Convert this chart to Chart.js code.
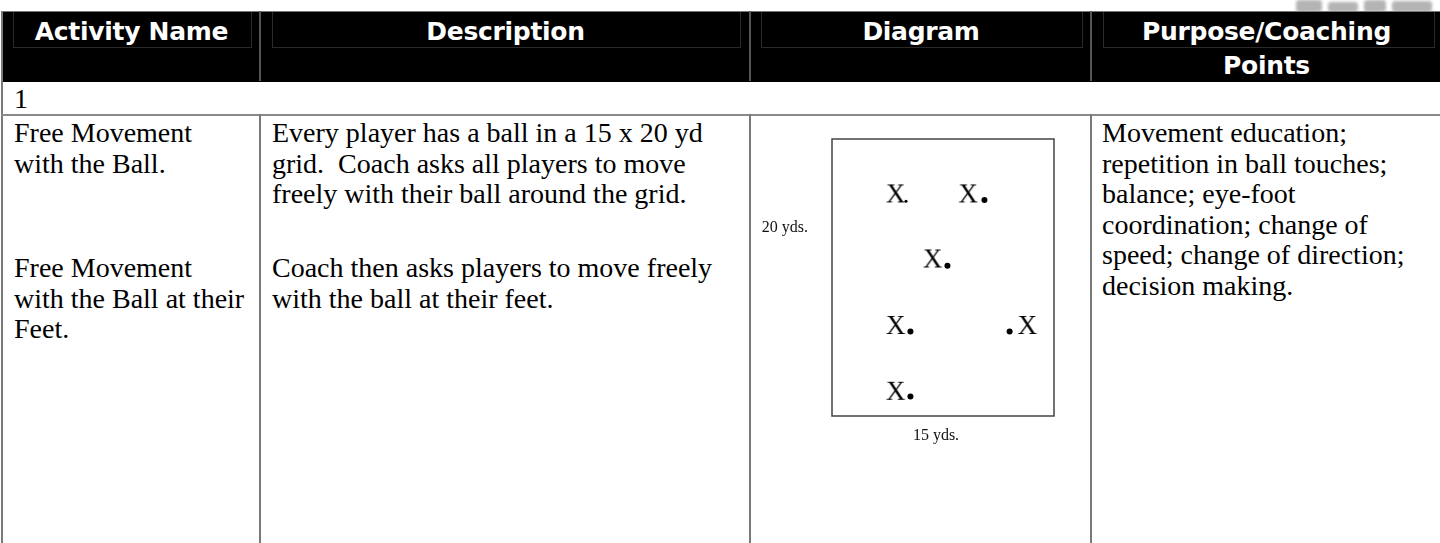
<!DOCTYPE html>
<html>
<head>
<meta charset="utf-8">
<script src="https://cdn.jsdelivr.net/npm/chart.js@4.4.1/dist/chart.umd.min.js"></script>
<style>
  html, body { margin: 0; padding: 0; background: #fff; }
  #page { position: relative; width: 1440px; height: 543px; overflow: hidden; }
  .abs { position: absolute; }
  .blob { background: #b4b4b4; filter: blur(1.5px); border-radius: 3px; }
  .head { left: 3px; top: 11px; width: 1437px; height: 70px; background: #000; border-top: 1px solid #777; }
  .hbox { top: 12px; height: 35px; border: 1px solid #2a2a2a; border-top: none; }
  .htext { color: #fff; font: bold 25px "DejaVu Sans", sans-serif; text-align: center; line-height: 34px; letter-spacing: -0.3px; }
  .vline { width: 2px; background: #7a7a7a; }
  .hline { height: 2px; background: #8a8a8a; }
  .txt { font: 28px "Liberation Serif", "Times New Roman", serif; line-height: 30.5px; color: #000; white-space: pre; }
</style>
</head>
<body>
<div id="page">
  <div class="abs blob" style="left:1296px;top:0;width:26px;height:12px"></div>
  <div class="abs blob" style="left:1328px;top:2px;width:30px;height:10px"></div>
  <div class="abs blob" style="left:1364px;top:0;width:22px;height:12px"></div>
  <div class="abs blob" style="left:1392px;top:1px;width:40px;height:11px"></div>
  <div class="abs head"></div>
  <div class="abs hbox" style="left:13px;width:237px"></div>
  <div class="abs hbox" style="left:272px;width:467px"></div>
  <div class="abs hbox" style="left:761px;width:320px"></div>
  <div class="abs hbox" style="left:1103px;width:330px"></div>
  <div class="abs htext" style="left:13px;width:237px;top:15px">Activity Name</div>
  <div class="abs htext" style="left:272px;width:467px;top:15px">Description</div>
  <div class="abs htext" style="left:761px;width:320px;top:15px">Diagram</div>
  <div class="abs htext" style="left:1093px;width:347px;top:15px">Purpose/Coaching</div>
  <div class="abs htext" style="left:1093px;width:347px;top:49px">Points</div>

  <div class="abs vline" style="left:1px;top:11px;height:532px"></div>
  <div class="abs vline" style="left:259px;top:11px;height:70px;background:#555"></div>
  <div class="abs vline" style="left:749px;top:11px;height:70px;background:#555"></div>
  <div class="abs vline" style="left:1090px;top:11px;height:70px;background:#555"></div>

  <div class="abs txt" style="left:14px;top:84px">1</div>
  <div class="abs hline" style="left:1px;top:114px;width:1439px"></div>

  <div class="abs vline" style="left:259px;top:114px;height:429px"></div>
  <div class="abs vline" style="left:749px;top:114px;height:429px"></div>
  <div class="abs vline" style="left:1090px;top:114px;height:429px"></div>

  <div class="abs txt" style="left:14px;top:118px">Free Movement
with the Ball.</div>
  <div class="abs txt" style="left:14px;top:253px">Free Movement
with the Ball at their
Feet.</div>
  <div class="abs txt" style="left:272px;top:118px">Every player has a ball in a 15 x 20 yd
grid.  Coach asks all players to move
freely with their ball around the grid.</div>
  <div class="abs txt" style="left:272px;top:253px">Coach then asks players to move freely
with the ball at their feet.</div>
  <div class="abs txt" style="left:1102px;top:118px">Movement education;
repetition in ball touches;
balance; eye-foot
coordination; change of
speed; change of direction;
decision making.</div>

  <canvas id="diagram" class="abs" width="338" height="427" style="left:752px;top:116px"></canvas>
</div>

<script>
// grid size in yards
const gridWidth = 15;
const gridHeight = 20;
const widthLabel = '15 yds.';
const heightLabel = '20 yds.';

// players (X) and their balls, in yards from the bottom-left corner
const playerX = [4.3, 9.2, 6.8, 4.3, 13.2, 4.3];
const playerY = [16.0, 16.0, 11.3, 6.5, 6.5, 1.75];
const ballX = [5.0, 10.3, 7.8, 5.3, 12.0, 5.3];
const ballY = [15.5, 15.6, 10.85, 6.1, 6.1, 1.4];

function toPoints(xs, ys) {
    return xs.map((x, i) => ({ x: x, y: ys[i] }));
}

// letter X used as the player marker
function makeLetter(letter) {
    const c = document.createElement('canvas');
    c.width = 24;
    c.height = 22;
    const g = c.getContext('2d');
    g.fillStyle = '#000';
    g.font = '27px "Liberation Serif"';
    g.textAlign = 'center';
    g.textBaseline = 'middle';
    g.fillText(letter, 12, 12);
    return c;
}

const gridFrame = {
    id: 'gridFrame',
    afterDraw(chart) {
        const a = chart.chartArea;
        const ctx = chart.ctx;
        ctx.save();
        ctx.strokeStyle = '#444';
        ctx.lineWidth = 1.5;
        ctx.strokeRect(a.left, a.top, a.right - a.left, a.bottom - a.top);
        ctx.fillStyle = '#111';
        ctx.font = '16px "Liberation Serif"';
        ctx.textBaseline = 'middle';
        ctx.textAlign = 'right';
        ctx.fillText(heightLabel, a.left - 24, a.top + (a.bottom - a.top) * 0.32);
        ctx.textAlign = 'center';
        ctx.fillText(widthLabel, (a.left + a.right) / 2 - 7, a.bottom + 20);
        ctx.restore();
    }
};

const ctx = document.getElementById('diagram').getContext('2d');
const diagram = new Chart(ctx, {
    type: 'scatter',
    data: {
        datasets: [
            {
                label: 'Players',
                data: toPoints(playerX, playerY),
                pointStyle: makeLetter('X'),
                pointRadius: 11
            },
            {
                label: 'Balls',
                data: toPoints(ballX, ballY),
                pointStyle: 'circle',
                backgroundColor: '#000',
                borderColor: '#000',
                borderWidth: 0,
                pointRadius: c => c.dataIndex === 0 ? 1.5 : 3
            }
        ]
    },
    options: {
        responsive: false,
        animation: false,
        layout: { padding: { left: 80, top: 23, right: 36, bottom: 127 } },
        scales: {
            x: { min: 0, max: gridWidth, display: false },
            y: { min: 0, max: gridHeight, display: false }
        },
        plugins: {
            legend: { display: false },
            tooltip: { enabled: false }
        }
    },
    plugins: [gridFrame]
});
</script>
</body>
</html>
